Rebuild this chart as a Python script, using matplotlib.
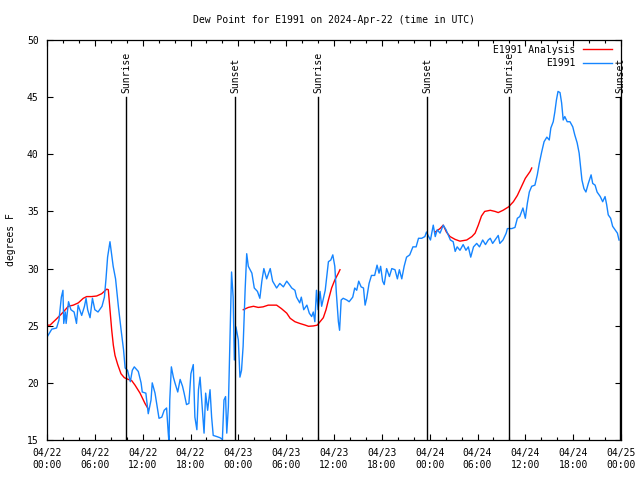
"""
Dew point E1991, 2024-04-22 -> 2024-04-25 (UTC) : station + analyse.
"""

import numpy as np
import pandas as pd
import matplotlib
matplotlib.use("Agg")
import matplotlib.pyplot as plt
import matplotlib.dates as mdates


START = pd.Timestamp("2024-04-22 00:00")

# serie station (heures depuis START, degres F)
obs_hours = [
    0.0, 0.6, 1.2, 1.5, 1.8, 2.0, 2.1, 2.3, 2.4, 2.7, 3.0, 3.4, 3.7, 3.9, 4.35, 4.7,
    4.9, 5.1, 5.4, 5.7, 6.0, 6.4, 6.9, 7.2, 7.4, 7.6, 7.9, 8.1, 8.3, 8.6, 8.95, 9.3,
    9.6, 9.8, 10.1, 10.45, 10.7, 10.95, 11.45, 11.8, 11.95, 12.4, 12.7, 13.05, 13.2,
    13.55, 13.85, 14.05, 14.4, 14.7, 15.0, 15.2, 15.3, 15.4, 15.6, 15.85, 16.05, 16.4,
    16.7, 17.0, 17.2, 17.5, 17.8, 18.05, 18.35, 18.55, 18.8, 19.0, 19.2, 19.4, 19.7,
    19.9, 20.15, 20.45, 20.65, 20.85, 21.3, 21.7, 22.0, 22.2, 22.4, 22.55, 22.75,
    23.15, 23.35, 23.5, 23.7, 24.0, 24.2, 24.4, 24.6, 24.85, 25.05, 25.25, 25.7, 26.0,
    26.4, 26.7, 26.95, 27.2, 27.55, 28.0, 28.3, 28.8, 29.2, 29.65, 30.07, 30.4, 30.7,
    31.1, 31.3, 31.7, 31.9, 32.2, 32.6, 32.9, 33.2, 33.4, 33.6, 33.8, 34.0, 34.25,
    34.45, 34.9, 35.3, 35.6, 35.85, 36.1, 36.3, 36.55, 36.7, 36.9, 37.15, 37.6, 37.9,
    38.35, 38.6, 38.85, 39.1, 39.4, 39.7, 39.9, 40.1, 40.4, 40.7, 41.1, 41.4, 41.65,
    41.85, 42.1, 42.3, 42.6, 42.95, 43.25, 43.65, 43.95, 44.2, 44.5, 44.8, 45.1, 45.5,
    45.9, 46.3, 46.6, 47.0, 47.4, 47.6, 47.8, 48.1, 48.45, 48.7, 48.95, 49.3, 49.7,
    50.05, 50.35, 50.6, 50.95, 51.2, 51.45, 51.8, 52.2, 52.55, 52.85, 53.15, 53.5,
    53.9, 54.25, 54.65, 55.0, 55.35, 55.6, 55.9, 56.2, 56.6, 56.8, 57.2, 57.6, 57.75,
    58.3, 58.7, 59.0, 59.3, 59.7, 60.0, 60.25, 60.5, 60.8, 61.2, 61.5, 61.75, 62.05,
    62.35, 62.7, 63.0, 63.2, 63.5, 63.7, 63.9, 64.1, 64.35, 64.55, 64.75, 64.95, 65.25,
    65.6, 65.95, 66.2, 66.5, 66.75, 66.95, 67.1, 67.35, 67.6, 67.9, 68.25, 68.45,
    68.75, 69.0, 69.4, 69.7, 70.0, 70.2, 70.4, 70.7, 70.95, 71.25, 71.55, 71.75,
]
obs_dewpt = [
    24.0, 24.7, 24.8, 25.5, 27.5, 28.1, 25.2, 26.2, 25.2, 27.1, 26.4, 26.2, 25.2, 26.8, 25.9, 26.7,
    27.4, 26.4, 25.7, 27.4, 26.4, 26.2, 26.7, 27.5, 29.1, 31.0, 32.35, 31.3, 30.2, 29.1, 26.7, 24.6,
    22.9, 21.3, 21.1, 20.1, 21.1, 21.4, 21.0, 20.0, 19.2, 19.1, 17.3, 18.5, 20.0,
    19.1, 17.8, 16.9, 17.0, 17.6, 17.8, 15.7, 14.8, 18.5, 21.4, 20.5, 20.0, 19.2,
    20.3, 19.7, 19.1, 18.1, 18.2, 20.8, 21.6, 17.0, 15.9, 19.4, 20.5, 18.5, 15.6,
    19.1, 17.6, 19.4, 17.0, 15.4, 15.3, 15.2, 15.05, 18.5, 18.8, 15.6, 17.9,
    29.7, 27.5, 22.0, 24.9, 23.75, 20.5, 21.1, 23.2, 28.1, 31.3, 30.2, 29.6, 28.3,
    28.0, 27.4, 28.9, 30.0, 29.1, 30.0, 28.9, 28.3, 28.7, 28.4, 28.9, 28.6, 28.3,
    28.1, 27.5, 27.0, 27.5, 26.4, 26.8, 26.1, 25.8, 26.2, 25.35, 28.1, 26.4, 28.0,
    26.7, 28.1, 30.6, 30.75, 31.2, 30.2, 27.8, 25.35, 24.6, 27.25, 27.4, 27.25, 27.1,
    27.5, 28.3, 28.1, 28.9, 28.4, 28.3, 26.8, 27.4, 28.7, 29.4, 29.4, 30.3, 29.6,
    30.2, 28.9, 28.6, 30.0, 29.3, 30.0, 29.9, 29.1, 29.9, 29.1, 30.2, 31.0, 31.2,
    31.9, 31.9, 32.65, 32.65, 32.8, 33.2, 32.9, 32.5, 33.8, 32.8, 33.4, 33.1, 33.8,
    33.4, 32.9, 32.5, 32.35, 31.5, 31.9, 31.6, 32.1, 31.6, 31.9, 31.0, 31.9,
    32.2, 31.9, 32.5, 32.1, 32.5, 32.65, 32.2, 32.5, 32.9, 32.2, 32.5, 33.1, 33.5,
    33.5, 33.6, 34.4, 34.55, 35.3, 34.4, 35.7, 36.7, 37.2, 37.3, 38.2, 39.2, 40.2,
    41.1, 41.5, 41.25, 42.3, 42.85, 43.7, 44.75, 45.5, 45.4, 44.5, 43.0, 43.3, 42.85,
    42.85, 42.4, 41.7, 41.0, 40.1, 38.8, 37.75, 37.0, 36.7, 37.45, 38.2, 37.45,
    37.3, 36.7, 36.3, 35.85, 36.3, 35.6, 34.7, 34.4, 33.7, 33.4, 33.1, 32.5,
]

# analyse (trois morceaux separes par NaN)
ana_hours = [
    0.0, 0.38, 1.2, 2.05, 2.67, 3.3, 3.93, 4.55, 4.98, 5.6, 6.23, 6.86, 7.49, 7.69,
    7.9, 8.12, 8.32, 8.53, 8.87, 9.28, 9.7, 10.2, 10.62, 11.04, 11.67, 12.29, 12.71,
    18.0,
    24.62, 25.25, 25.9, 26.5, 27.1, 27.75, 28.8, 29.4, 30.07, 30.5, 31.1, 31.7, 32.4,
    32.8, 33.4, 33.9, 34.25, 34.66, 35.0, 35.3, 35.7, 36.1, 36.55, 36.75,
    42.0,
    48.7, 49.3, 49.7, 50.1, 50.55, 51.2, 51.8, 52.65, 53.3, 53.7, 54.1, 54.5, 54.9,
    55.6, 56.2, 56.6, 57.2, 57.9, 58.5, 59.0, 59.4, 60.0, 60.6, 60.8,
]
ana_dewpt = [
    25.05, 25.05, 25.6, 26.2, 26.7, 26.8, 27.0, 27.4, 27.55, 27.55, 27.6, 27.8, 28.2, 28.15,
    26.4, 24.6, 23.3, 22.4, 21.6, 20.8, 20.45, 20.3, 20.2, 19.8, 19.1, 18.2, 17.7,
    np.nan,
    26.4, 26.6, 26.7, 26.6, 26.65, 26.8, 26.8, 26.5, 26.1, 25.65, 25.35, 25.2, 25.05,
    24.95, 24.98, 25.05, 25.35, 25.7, 26.4, 27.25, 28.3, 29.0, 29.6, 29.9,
    np.nan,
    33.2, 33.5, 33.8, 33.2, 32.8, 32.55, 32.4, 32.5, 32.8, 33.1, 33.8, 34.6, 35.0,
    35.1, 35.0, 34.9, 35.1, 35.4, 35.85, 36.4, 37.0, 37.9, 38.5, 38.8,
]

sun_hours = [9.91, 23.58, 33.99, 47.67, 57.95, 71.88]
sun_labels = ["Sunrise", "Sunset", "Sunrise", "Sunset", "Sunrise", "Sunset"]

FONT = "DejaVu Sans Mono"
FS = 7


def to_time(hours):
    return START + pd.to_timedelta(np.asarray(hours, dtype=float), unit="h")


def main():
    plt.rcParams["font.family"] = FONT
    plt.rcParams["font.size"] = FS

    fig = plt.figure(figsize=(6.4, 4.8), dpi=100)
    ax = fig.add_axes([47 / 640, 40 / 480, 574 / 640, 400 / 480])

    ax.plot(to_time(ana_hours), ana_dewpt, color="#ff0000", linewidth=1.0,
            label="E1991 Analysis")
    ax.plot(to_time(obs_hours), obs_dewpt, color="#1585ff", linewidth=1.0,
            label="E1991")

    for h, lab in zip(sun_hours, sun_labels):
        t = to_time([h])[0]
        ax.plot([t, t], [15, 45], color="black", linewidth=1.0)
        ax.text(t, 45.35, lab, rotation=90, ha="center", va="bottom", fontsize=FS)

    ax.set_xlim(START, START + pd.Timedelta(hours=72))
    ax.set_ylim(15, 50)
    ax.set_yticks(range(15, 51, 5))

    ax.xaxis.set_major_locator(mdates.HourLocator(byhour=range(0, 24, 6)))
    ax.xaxis.set_minor_locator(mdates.HourLocator(interval=2))
    ax.xaxis.set_major_formatter(mdates.DateFormatter("%m/%d\n%H:%M"))

    ax.tick_params(which="both", direction="in", top=True, right=True, labelsize=FS)
    ax.tick_params(which="major", length=4, width=0.8, pad=6)
    ax.tick_params(which="minor", length=2.2, width=0.8)
    for s in ax.spines.values():
        s.set_linewidth(0.9)

    ax.set_ylabel("degrees F", fontsize=FS, labelpad=8)
    ax.set_title("Dew Point for E1991 on 2024-Apr-22 (time in UTC)", fontsize=FS, pad=12)

    ax.legend(loc="upper right", bbox_to_anchor=(0.993, 1.0), frameon=False,
              markerfirst=False, fontsize=FS, handlelength=3.0, labelspacing=0.35,
              borderaxespad=0.1, handletextpad=0.8)

    fig.savefig("out.png", dpi=100)
    plt.close(fig)


if __name__ == "__main__":
    main()
